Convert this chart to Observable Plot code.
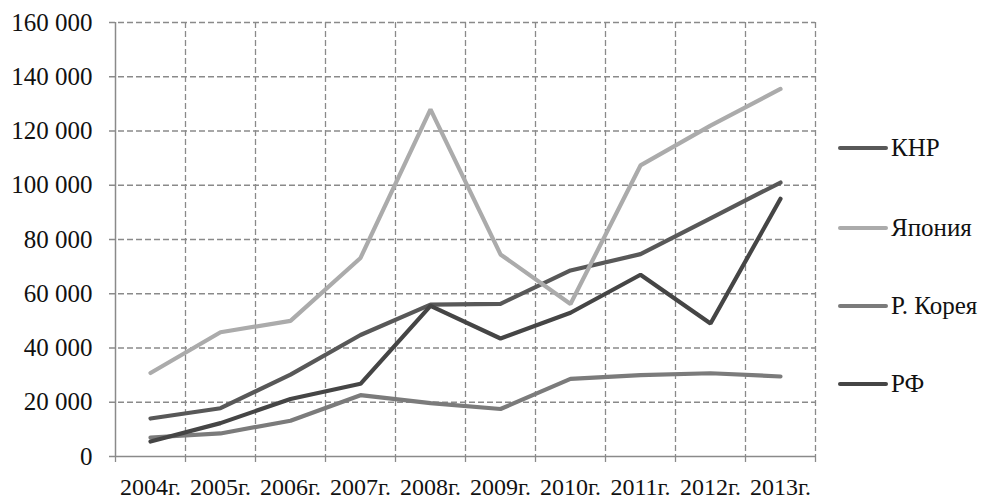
<!DOCTYPE html>
<html>
<head>
<meta charset="utf-8">
<script src="https://cdn.jsdelivr.net/npm/d3@7"></script>
<script src="https://cdn.jsdelivr.net/npm/@observablehq/plot@0.6"></script>
<style>
  html, body { margin: 0; padding: 0; background: #fff; }
  #wrap { position: relative; width: 986px; height: 501px; }
  #legend { position: absolute; left: 838px; top: 0; }
  .item { position: absolute; left: 0; display: flex; align-items: center; white-space: nowrap; color: #111; }
  .sw { width: 50px; height: 4px; border-radius: 2px; margin-right: 3px; }
</style>
</head>
<body>
<div id="wrap"><div id="legend"></div></div>
<script>
const years = ["2004г.", "2005г.", "2006г.", "2007г.", "2008г.", "2009г.", "2010г.", "2011г.", "2012г.", "2013г."];
const seriesNames = ["КНР", "Япония", "Р. Корея", "РФ"];
const knr   = [14000, 17800, 30200, 44800, 56000, 56300, 68600, 74600, 87800, 101000];
const japan = [30800, 45800, 50000, 73200, 128000, 74500, 56200, 107300, 122000, 135500];
const korea = [7000, 8500, 13200, 22600, 19700, 17500, 28600, 30000, 30700, 29500];
const rf    = [5500, 12300, 21200, 26800, 55500, 43500, 53000, 67000, 49000, 95000];
const yTicks = [0, 20000, 40000, 60000, 80000, 100000, 120000, 140000, 160000];
const colors = ["#585858", "#ababab", "#7b7b7b", "#454545"];
const seriesValues = [knr, japan, korea, rf];

const data = [];
seriesNames.forEach((name, s) => {
  years.forEach((yr, i) => data.push({ series: name, idx: i + 0.5, year: yr, value: seriesValues[s][i] }));
});

const fmt = v => d3.format(",")(v).replace(/,/g, " ");
const centers = years.map((_, i) => i + 0.5);
const bounds = d3.range(1, years.length + 1);
const serif = "Liberation Serif";

const chart = Plot.plot({
  width: 986,
  height: 501,
  marginLeft: 115,
  marginRight: 171,
  marginTop: 22,
  marginBottom: 45,
  style: { fontFamily: serif, background: "white", overflow: "visible" },
  x: { type: "linear", domain: [0, years.length], label: null },
  y: { domain: [0, 160000], label: null },
  color: { domain: seriesNames, range: colors },
  marks: [
    Plot.gridY(yTicks.filter(t => t > 0), { stroke: "#8a8a8a", strokeOpacity: 1, strokeDasharray: "6,3", strokeWidth: 1.3, insetLeft: -6 }),
    Plot.ruleX(bounds, { stroke: "#8a8a8a", strokeDasharray: "6,3", strokeWidth: 1.3 }),
    Plot.ruleX([0], { stroke: "#8a8a8a", strokeWidth: 1.5 }),
    Plot.ruleY([0], { stroke: "#8a8a8a", strokeWidth: 1.5, insetLeft: -6 }),
    Plot.ruleX([0, ...bounds], { y1: 0, y2: 0, insetTop: 6, stroke: "#8a8a8a", strokeWidth: 1.3 }),
    Plot.axisY({ ticks: yTicks, tickFormat: fmt, tickSize: 0, tickPadding: 23, fontSize: 25, fontFamily: serif, fill: "#111", label: null }),
    Plot.axisX({ ticks: centers, tickFormat: i => years[Math.floor(i)], tickSize: 0, tickPadding: 21, fontSize: 24, fontFamily: serif, fill: "#111", label: null }),
    Plot.lineY(data, { x: "idx", y: "value", z: "series", stroke: "series", strokeWidth: 4.2, strokeLinejoin: "miter", strokeLinecap: "round" })
  ]
});
chart.querySelectorAll("text").forEach(t => t.style.fontFamily = "'Liberation Serif'");
document.getElementById("wrap").prepend(chart);

const legendY = [148, 228, 306, 384];
const lg = document.getElementById("legend");
seriesNames.forEach((name, i) => {
  const it = document.createElement("div");
  it.className = "item";
  it.style.top = (legendY[i] - 15) + "px";
  it.style.height = "30px";
  it.style.fontFamily = "'Liberation Serif'";
  it.style.fontSize = "25px";
  const sw = document.createElement("div");
  sw.className = "sw";
  sw.style.background = colors[i];
  const t = document.createElement("span");
  t.textContent = name;
  it.appendChild(sw); it.appendChild(t);
  lg.appendChild(it);
});
</script>
</body>
</html>
